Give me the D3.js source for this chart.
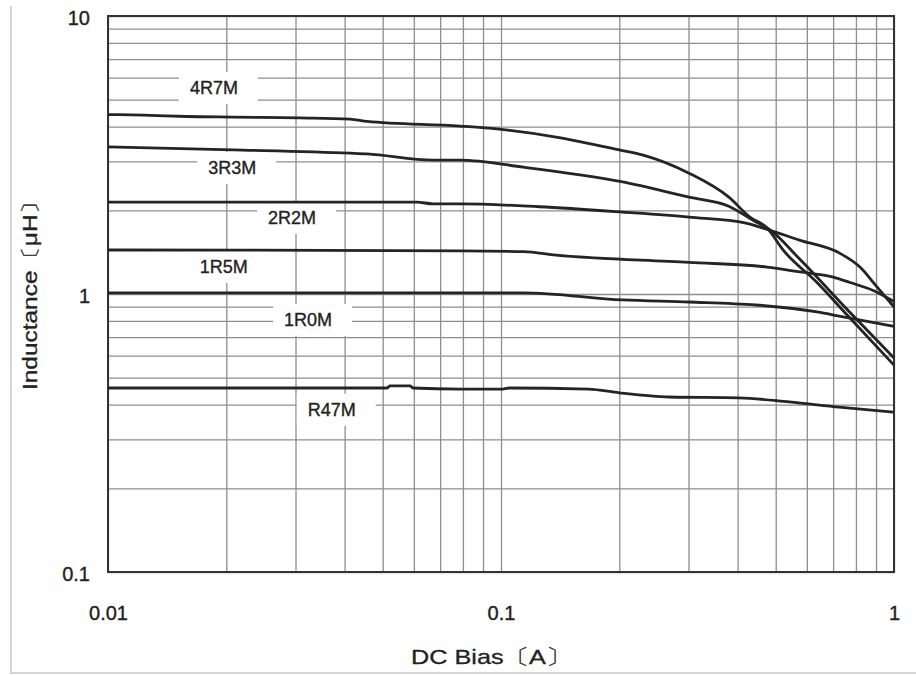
<!DOCTYPE html>
<html>
<head>
<meta charset="utf-8">
<script src="https://cdn.jsdelivr.net/npm/d3@7"></script>
<style>
  html, body { margin: 0; padding: 0; background: #fff; }
  svg { display: block; }
</style>
</head>
<body>
<svg id="chart" width="916" height="675"></svg>
<script>
// ---- Data (DC Bias [A] vs Inductance [µH]) ----
const seriesNames = ["4R7M", "3R3M", "2R2M", "1R5M", "1R0M", "R47M"];

const curve4R7M = [[0.01,4.42],[0.0123,4.40],[0.0159,4.35],[0.0208,4.33],[0.0308,4.30],[0.0413,4.26],[0.0456,4.18],[0.0787,4.02],[0.0932,3.95],[0.138,3.67],[0.2,3.30],[0.23,3.16],[0.301,2.72],[0.38,2.23],[0.43,1.89],[0.475,1.73],[0.522,1.44],[0.637,1.10],[0.76,0.84],[1,0.555]];
const curve3R3M = [[0.01,3.38],[0.0208,3.30],[0.0413,3.21],[0.0456,3.19],[0.0671,3.03],[0.0787,3.03],[0.114,2.86],[0.204,2.53],[0.301,2.23],[0.38,2.07],[0.438,1.84],[0.484,1.70],[0.577,1.33],[0.76,0.88],[1,0.589]];
const curve2R2M = [[0.01,2.14],[0.0413,2.14],[0.0611,2.14],[0.0671,2.11],[0.0787,2.11],[0.125,2.06],[0.204,1.97],[0.301,1.89],[0.42,1.80],[0.456,1.74],[0.577,1.56],[0.729,1.40],[0.819,1.25],[0.905,1.06],[1,0.898]];
const curve1R5M = [[0.01,1.44],[0.0787,1.43],[0.114,1.42],[0.138,1.38],[0.301,1.30],[0.475,1.25],[0.577,1.20],[0.70,1.15],[0.773,1.10],[0.885,1.03],[1,0.94]];
const curve1R0M = [[0.01,1.01],[0.114,1.01],[0.204,0.952],[0.301,0.936],[0.445,0.913],[0.637,0.862],[0.742,0.827],[1,0.765]];
const curveR47M = [[0.01,0.459],[0.0513,0.459],[0.0522,0.467],[0.0587,0.467],[0.0597,0.459],[0.0787,0.455],[0.1,0.455],[0.105,0.459],[0.167,0.455],[0.2,0.441],[0.268,0.426],[0.403,0.423],[0.541,0.409],[0.725,0.392],[1,0.376]];

// label anchor points in data coordinates (DC Bias, Inductance)
const labelAt = [[0.0186,5.51],[0.0207,2.84],[0.0294,1.88],[0.0197,1.25],[0.0323,0.806],[0.0371,0.383]];

const xTickLabels = [0.01, 0.1, 1];
const yTickLabels = [0.1, 1, 10];
const xTitle = "DC Bias〔A〕";
const yTitle = "Inductance〔μH〕";

const allCurves = [curve4R7M, curve3R3M, curve2R2M, curve1R5M, curve1R0M, curveR47M];

// ---- Layout ----
const svg = d3.select("#chart");
const L = 108, R = 894, T = 16, B = 572;
const x = d3.scaleLog().domain([0.01, 1]).range([L, R]);
const y = d3.scaleLog().domain([0.1, 10]).range([B, T]);
const font = "'Liberation Sans', Arial, Helvetica, sans-serif";
const ink = "#222";

// page frame (scan border)
svg.append("line").attr("x1", 11).attr("x2", 11).attr("y1", 6).attr("y2", 673)
  .attr("stroke", "#c8c8c8").attr("stroke-width", 1.5);
svg.append("line").attr("x1", 10).attr("x2", 916).attr("y1", 673).attr("y2", 673)
  .attr("stroke", "#c8c8c8").attr("stroke-width", 1.5);

// ---- Grid ----
const gridColor = "#8e8e8e";
const gx = svg.append("g").attr("transform", `translate(0,${B})`)
  .call(d3.axisBottom(x).tickValues(x.ticks()).tickSize(-(B - T)).tickFormat(""));
const gy = svg.append("g").attr("transform", `translate(${L},0)`)
  .call(d3.axisLeft(y).tickValues(y.ticks()).tickSize(-(R - L)).tickFormat(""));
[gx, gy].forEach(g => {
  g.select(".domain").remove();
  g.selectAll(".tick line").attr("stroke", gridColor).attr("stroke-width", 1.3);
});

// ---- Label background boxes (break the grid) ----
const labG = svg.append("g");
seriesNames.forEach((name, i) => {
  const cx = x(labelAt[i][0]), cy = y(labelAt[i][1]);
  labG.append("rect")
    .attr("x", cx - 35).attr("y", cy - 16)
    .attr("width", 79).attr("height", 32)
    .attr("fill", "#fff");
  labG.append("text")
    .attr("x", cx).attr("y", cy)
    .attr("text-anchor", "middle").attr("dominant-baseline", "central")
    .attr("font-family", font).attr("font-size", 18)
    .attr("fill", ink).attr("stroke", ink).attr("stroke-width", 0.35)
    .text(name);
});

// ---- Frame ----
svg.append("rect").attr("x", L).attr("y", T).attr("width", R - L).attr("height", B - T)
  .attr("fill", "none").attr("stroke", "#333").attr("stroke-width", 2);

// ---- Curves ----
const line = d3.line().x(d => x(d[0])).y(d => y(d[1])).curve(d3.curveMonotoneX);
svg.append("g").selectAll("path").data(allCurves).join("path")
  .attr("d", line)
  .attr("fill", "none").attr("stroke", "#242424").attr("stroke-width", 2.8)
  .attr("stroke-linejoin", "round");

// ---- Axes labels ----
const ax = svg.append("g").attr("transform", `translate(0,${B})`)
  .call(d3.axisBottom(x).tickValues(xTickLabels).tickSize(0).tickPadding(34).tickFormat(d => String(d)));
ax.select(".domain").remove();
ax.selectAll("text").attr("font-family", font).attr("font-size", 20)
  .attr("fill", ink).attr("stroke", ink).attr("stroke-width", 0.35);

const ay = svg.append("g").attr("transform", `translate(${L},0)`)
  .call(d3.axisLeft(y).tickValues(yTickLabels).tickSize(0).tickPadding(18).tickFormat(d => String(d)));
ay.select(".domain").remove();
ay.selectAll("text").attr("font-family", font).attr("font-size", 20)
  .attr("fill", ink).attr("stroke", ink).attr("stroke-width", 0.35).attr("dy", "0.4em");

// ---- Titles ----
svg.append("text")
  .attr("x", 491).attr("y", 664)
  .attr("text-anchor", "middle")
  .attr("font-family", font).attr("font-size", 21)
  .attr("fill", ink).attr("stroke", ink).attr("stroke-width", 0.3)
  .attr("textLength", 160).attr("lengthAdjust", "spacingAndGlyphs")
  .text(xTitle);

svg.append("text")
  .attr("transform", "translate(37,290) rotate(-90)")
  .attr("text-anchor", "middle")
  .attr("font-family", font).attr("font-size", 20)
  .attr("fill", ink).attr("stroke", ink).attr("stroke-width", 0.3)
  .attr("textLength", 200).attr("lengthAdjust", "spacingAndGlyphs")
  .text(yTitle);
</script>
</body>
</html>
